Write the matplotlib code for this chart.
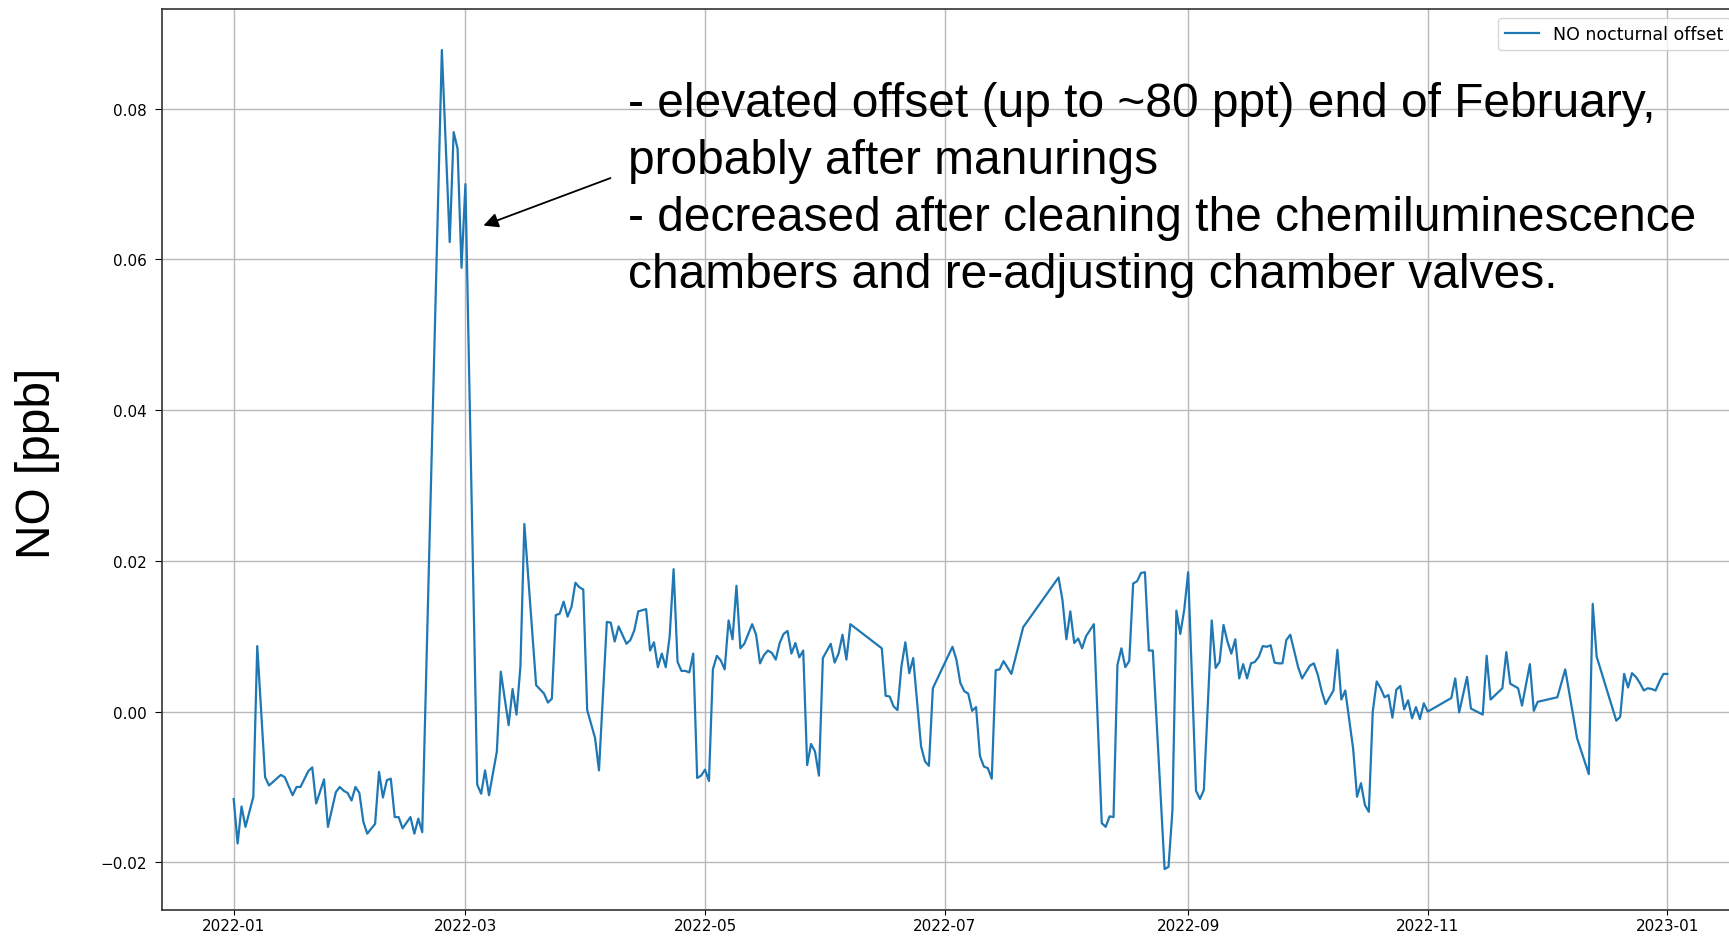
import matplotlib
matplotlib.use('Agg')
import matplotlib.pyplot as plt
import matplotlib.dates as mdates
import pandas as pd

START = pd.Timestamp('2022-01-01')

# nights with a valid offset, as day number counted from START
DAYS = [
    0, 1, 2, 3, 5, 6, 8, 9, 12, 13, 15, 16, 17, 19, 20, 21, 23, 24, 26, 27,
    28, 29, 30, 31, 32, 33, 34, 36, 37, 38, 39, 40, 41, 42, 43, 45, 46, 47, 48, 53,
    55, 56, 57, 58, 59, 62, 63, 64, 65, 67, 68, 70, 71, 72, 73, 74, 77, 79, 80, 81,
    82, 83, 84, 85, 86, 87, 88, 89, 90, 92, 93, 95, 96, 97, 98, 100, 101, 102, 103, 105,
    106, 107, 108, 109, 110, 111, 112, 113, 114, 115, 116, 117, 118, 119, 120, 121, 122, 123, 124, 125,
    126, 127, 128, 129, 130, 132, 133, 134, 135, 136, 137, 138, 139, 140, 141, 142, 143, 144, 145, 146,
    147, 148, 149, 150, 152, 153, 154, 155, 156, 157, 165, 166, 167, 168, 169, 170, 171, 172, 173, 175,
    176, 177, 178, 183, 184, 185, 186, 187, 188, 189, 190, 191, 192, 193, 194, 195, 196, 198, 201, 210,
    211, 212, 213, 214, 215, 216, 217, 219, 221, 222, 223, 224, 225, 226, 227, 228, 229, 230, 231, 232,
    233, 234, 237, 238, 239, 240, 241, 242, 243, 245, 246, 247, 249, 250, 251, 252, 253, 254, 255, 256,
    257, 258, 259, 260, 261, 262, 263, 264, 265, 266, 267, 268, 269, 271, 272, 274, 275, 276, 277, 278,
    279, 280, 281, 282, 283, 285, 286, 287, 288, 289, 290, 291, 292, 293, 294, 295, 296, 297, 298, 299,
    300, 301, 302, 303, 304, 310, 311, 312, 314, 315, 318, 319, 320, 323, 324, 325, 327, 328, 330, 331,
    332, 337, 339, 342, 345, 346, 347, 352, 353, 354, 355, 356, 357, 358, 359, 360, 361, 362, 363, 364,
    365,
]

# NO nocturnal offset [ppb]
NO_OFFSET = [
    -0.0116, -0.0175, -0.0126, -0.0153, -0.0113, 0.0087, -0.0087, -0.0098, -0.0084, -0.0087,
    -0.0111, -0.0100, -0.0100, -0.0079, -0.0074, -0.0122, -0.0090, -0.0153, -0.0107, -0.0100,
    -0.0105, -0.0108, -0.0118, -0.0100, -0.0108, -0.0146, -0.0162, -0.0149, -0.0080, -0.0114,
    -0.0091, -0.0089, -0.0140, -0.0140, -0.0155, -0.0140, -0.0162, -0.0142, -0.0160, 0.0878,
    0.0623, 0.0769, 0.0747, 0.0589, 0.0700, -0.0097, -0.0109, -0.0078, -0.0111, -0.0053,
    0.0053, -0.0018, 0.0030, -0.0004, 0.0060, 0.0249, 0.0035, 0.0024, 0.0012, 0.0017,
    0.0128, 0.0130, 0.0146, 0.0126, 0.0139, 0.0171, 0.0165, 0.0162, 0.0002, -0.0035,
    -0.0078, 0.0119, 0.0118, 0.0093, 0.0113, 0.0090, 0.0095, 0.0108, 0.0133, 0.0136,
    0.0081, 0.0092, 0.0059, 0.0077, 0.0059, 0.0100, 0.0189, 0.0066, 0.0054, 0.0054,
    0.0052, 0.0077, -0.0088, -0.0085, -0.0077, -0.0092, 0.0056, 0.0074, 0.0068, 0.0056,
    0.0121, 0.0096, 0.0167, 0.0084, 0.0090, 0.0116, 0.0102, 0.0064, 0.0075, 0.0081,
    0.0078, 0.0069, 0.0091, 0.0103, 0.0107, 0.0077, 0.0091, 0.0072, 0.0081, -0.0071,
    -0.0043, -0.0053, -0.0085, 0.0071, 0.0090, 0.0065, 0.0077, 0.0102, 0.0069, 0.0116,
    0.0084, 0.0021, 0.0020, 0.0007, 0.0002, 0.0060, 0.0092, 0.0051, 0.0071, -0.0046,
    -0.0066, -0.0072, 0.0031, 0.0086, 0.0069, 0.0038, 0.0027, 0.0024, 0.0001, 0.0006,
    -0.0059, -0.0073, -0.0075, -0.0089, 0.0055, 0.0056, 0.0067, 0.0050, 0.0112, 0.0178,
    0.0148, 0.0096, 0.0133, 0.0091, 0.0097, 0.0084, 0.0100, 0.0116, -0.0148, -0.0153,
    -0.0139, -0.0140, 0.0062, 0.0084, 0.0059, 0.0067, 0.0170, 0.0173, 0.0184, 0.0185,
    0.0081, 0.0081, -0.0209, -0.0206, -0.0131, 0.0134, 0.0103, 0.0135, 0.0185, -0.0105,
    -0.0116, -0.0104, 0.0121, 0.0058, 0.0066, 0.0115, 0.0093, 0.0077, 0.0096, 0.0044,
    0.0063, 0.0044, 0.0064, 0.0066, 0.0073, 0.0087, 0.0086, 0.0088, 0.0065, 0.0064,
    0.0064, 0.0095, 0.0102, 0.0059, 0.0044, 0.0061, 0.0064, 0.0049, 0.0027, 0.0010,
    0.0019, 0.0028, 0.0082, 0.0016, 0.0028, -0.0049, -0.0113, -0.0095, -0.0124, -0.0133,
    0.0000, 0.0040, 0.0031, 0.0019, 0.0022, -0.0008, 0.0029, 0.0034, 0.0003, 0.0015,
    -0.0009, 0.0006, -0.0010, 0.0011, 0.0000, 0.0018, 0.0044, -0.0001, 0.0046, 0.0004,
    -0.0004, 0.0074, 0.0016, 0.0031, 0.0079, 0.0037, 0.0031, 0.0008, 0.0063, 0.0001,
    0.0013, 0.0019, 0.0056, -0.0035, -0.0083, 0.0143, 0.0073, -0.0012, -0.0007, 0.0050,
    0.0032, 0.0051, 0.0046, 0.0038, 0.0028, 0.0031, 0.0030, 0.0028, 0.0040, 0.0050,
    0.0050,
]

NOTE_LINES = [
    '- elevated offset (up to ~80 ppt) end of February,',
    'probably after manurings',
    '- decreased after cleaning the chemiluminescence',
    'chambers and re-adjusting chamber valves.',
]

dates = START + pd.to_timedelta(DAYS, unit='D')

fig = plt.figure(figsize=(17.29, 9.37), dpi=100)
# axes run slightly past the right edge of the canvas
ax = fig.add_axes([0.0937, 0.0277, 0.9121, 0.9616])

ax.plot(dates, NO_OFFSET, color='#1f77b4', lw=1.6, label='NO nocturnal offset')

ax.xaxis.set_major_locator(mdates.MonthLocator(bymonth=[1, 3, 5, 7, 9, 11]))
ax.xaxis.set_major_formatter(mdates.DateFormatter('%Y-%m'))
ax.set_yticks([-0.02, 0.0, 0.02, 0.04, 0.06, 0.08])
ax.tick_params(axis='y', labelsize=11, length=5, pad=6)
ax.tick_params(axis='x', labelsize=11, length=3.5, pad=2.5)
ax.grid(True, color='#b8b8b8', lw=1.0)
for sp in ax.spines.values():
    sp.set_linewidth(1.2)
    sp.set_color('#333333')

ax.legend(loc='upper right', fontsize=12.5)

ax.annotate('', xy=(pd.Timestamp('2022-03-05 14:00'), 0.0645),
            xytext=(pd.Timestamp('2022-04-06 22:00'), 0.0708),
            arrowprops=dict(arrowstyle='-|>', color='black', lw=1.3,
                            mutation_scale=22, shrinkA=0, shrinkB=0))

fig.text(38 / 1729, 1 - 463 / 937, 'NO [ppb]', rotation=90, ha='center', va='center',
         fontsize=34.5, family='Liberation Sans')

for i, line in enumerate(NOTE_LINES):
    y = 117 + 57 * i
    fig.text(628 / 1729, 1 - y / 937, line, ha='left', va='baseline',
             fontsize=34.5, family='Liberation Sans')

fig.savefig('out.png', dpi=100)
